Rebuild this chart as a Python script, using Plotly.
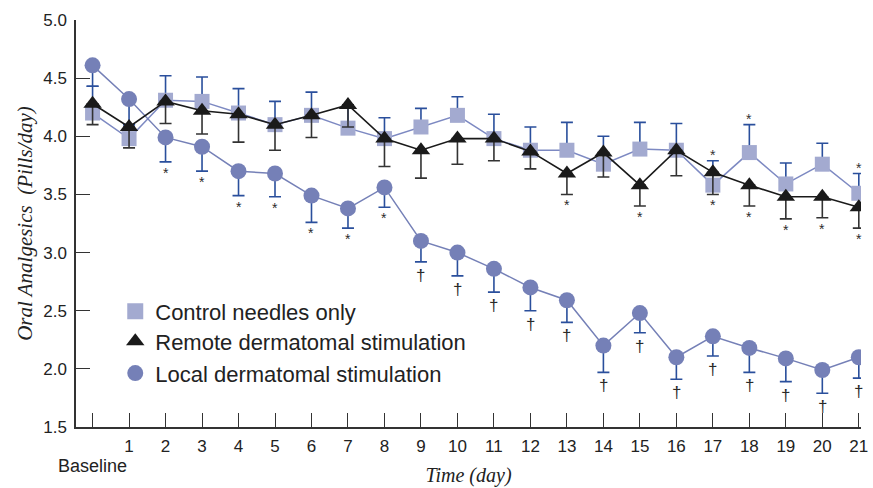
import plotly.graph_objects as go

days = list(range(22))
day_labels = [""] + [str(d) for d in range(1, 22)]

control = [4.20, 3.98, 4.31, 4.30, 4.20, 4.10, 4.18, 4.07, 3.98, 4.08, 4.18, 3.98,
           3.88, 3.88, 3.76, 3.89, 3.88, 3.58, 3.86, 3.59, 3.76, 3.51]
control_err = [0.23, 0.12, 0.21, 0.21, 0.21, 0.20, 0.20, 0.20, 0.18, 0.16, 0.16, 0.21,
               0.20, 0.24, 0.24, 0.23, 0.23, 0.21, 0.24, 0.18, 0.18, 0.17]
control_sig = [""] * 17 + ["*", "*", "", "", "*"]

remote = [4.28, 4.08, 4.30, 4.22, 4.19, 4.10, 4.18, 4.27, 3.98, 3.88, 3.98, 3.98,
          3.87, 3.68, 3.86, 3.58, 3.88, 3.69, 3.58, 3.48, 3.48, 3.39]
remote_err = [0.18, 0.18, 0.19, 0.20, 0.24, 0.22, 0.19, 0.19, 0.24, 0.24, 0.22, 0.19,
              0.15, 0.18, 0.21, 0.18, 0.22, 0.19, 0.18, 0.19, 0.18, 0.18]
remote_sig = [""] * 13 + ["*", "", "*", "", "*", "*", "*", "*", "*"]

local = [4.61, 4.32, 3.99, 3.91, 3.70, 3.68, 3.49, 3.38, 3.56, 3.10, 3.00, 2.86,
         2.70, 2.59, 2.20, 2.48, 2.10, 2.28, 2.18, 2.09, 1.99, 2.10]
local_err = [0.18, 0.22, 0.21, 0.21, 0.21, 0.20, 0.23, 0.17, 0.17, 0.18, 0.20, 0.20,
             0.20, 0.19, 0.23, 0.17, 0.19, 0.17, 0.21, 0.20, 0.20, 0.18]
local_sig = ["", ""] + ["*"] * 7 + ["\u2020"] * 13

names = ["Control needles only", "Remote dermatomal stimulation", "Local dermatomal stimulation"]

C_SQ = "#a3aad0"
C_CIR = "#7580b7"
C_BLUE_ERR = "#2a4f9c"
C_BLACK = "#1a1a1a"
C_ERR_BLACK = "#333333"
C_TXT = "#222222"

fig = go.Figure()

# Control
fig.add_trace(go.Scatter(
    x=days, y=control, mode="lines+markers", showlegend=False,
    line=dict(color="#7d89c2", width=1.5),
    marker=dict(symbol="square", size=15, color=C_SQ),
    error_y=dict(type="data", symmetric=False, array=control_err,
                 arrayminus=[0] * 22, color=C_BLUE_ERR, thickness=1.6, width=6),
))
# Local
fig.add_trace(go.Scatter(
    x=days, y=local, mode="lines+markers", showlegend=False,
    line=dict(color=C_CIR, width=1.5),
    marker=dict(symbol="circle", size=16, color=C_CIR),
    error_y=dict(type="data", symmetric=False, array=[0] * 22,
                 arrayminus=local_err, color=C_BLUE_ERR, thickness=1.6, width=6),
))
# Remote
fig.add_trace(go.Scatter(
    x=days, y=remote, mode="lines+markers", showlegend=False,
    line=dict(color=C_BLACK, width=1.6),
    marker=dict(symbol="triangle-up", size=16, color=C_BLACK),
    error_y=dict(type="data", symmetric=False, array=[0] * 22,
                 arrayminus=remote_err, color=C_ERR_BLACK, thickness=1.6, width=6),
))

# significance marks (derived from the data arrays)
def add_marks(vals, errs, sigs, above):
    for d, v, e, s in zip(days, vals, errs, sigs):
        if not s:
            continue
        dagger = s == "\u2020"
        if above:
            fig.add_annotation(x=d, y=v + e, text=s, showarrow=False,
                               yanchor="bottom", yshift=-4,
                               font=dict(family="Liberation Sans", size=14, color="#333333"))
        else:
            fig.add_annotation(x=d, y=v - e, text=s, showarrow=False,
                               yanchor="top", yshift=-2 if dagger else -1,
                               font=dict(family="Liberation Sans",
                                         size=17 if dagger else 14, color="#2a2a2a"))

add_marks(control, control_err, control_sig, True)
add_marks(remote, remote_err, remote_sig, False)
add_marks(local, local_err, local_sig, False)

# legend entries
leg_specs = [
    (names[0], "square", C_SQ, "legend", 0.284),
    (names[1], "triangle-up", C_BLACK, "legend2", 0.210),
    (names[2], "circle", C_CIR, "legend3", 0.132),
]
for nm, sym, col, lg, _ in leg_specs:
    fig.add_trace(go.Scatter(
        x=[None], y=[None], mode="markers", name=nm, legend=lg,
        marker=dict(symbol=sym, size=20, color=col),
    ))

leg_common = dict(
    x=0.050, xanchor="left", yanchor="middle", bgcolor="rgba(0,0,0,0)",
    font=dict(family="Liberation Sans", size=22, color=C_TXT),
    itemsizing="trace",
)
fig.update_layout(
    legend=dict(y=leg_specs[0][4], **leg_common),
    legend2=dict(y=leg_specs[1][4], **leg_common),
    legend3=dict(y=leg_specs[2][4], **leg_common),
)

fig.add_annotation(
    x=0, y=0, xref="x", yref="paper", text="Baseline", showarrow=False,
    yanchor="middle", yshift=-39,
    font=dict(family="Liberation Sans", size=18, color=C_TXT),
)

fig.update_xaxes(
    range=[-0.454, 21.06], tickvals=days, ticktext=day_labels,
    ticks="inside", ticklen=14, tickwidth=1.3, tickcolor="#333333",
    showline=True, linecolor="#333333", linewidth=1.5,
    showgrid=False, zeroline=False, ticklabeloverflow="allow",
    ticklabelstandoff=3,
    tickfont=dict(family="Liberation Sans", size=17, color=C_TXT),
    title=dict(text="<i>Time (day)</i>", standoff=13,
               font=dict(family="Liberation Serif", size=20, color=C_TXT)),
)
fig.update_yaxes(
    range=[1.5, 5.0], tickvals=[1.5, 2.0, 2.5, 3.0, 3.5, 4.0, 4.5, 5.0],
    ticktext=["1.5", "2.0", "2.5", "3.0", "3.5", "4.0", "4.5", "5.0"],
    ticks="inside", ticklen=14, tickwidth=1.3, tickcolor="#333333",
    showline=True, linecolor="#333333", linewidth=1.5,
    showgrid=False, zeroline=False, ticklabelstandoff=4,
    tickfont=dict(family="Liberation Sans", size=17, color=C_TXT),
    title=dict(text="<i>Oral Analgesics  (Pills/day)</i>", standoff=5,
               font=dict(family="Liberation Serif", size=21, color=C_TXT)),
)

fig.update_layout(
    width=873, height=488,
    margin=dict(l=76, r=5, t=20, b=58),
    plot_bgcolor="white", paper_bgcolor="white",
)

fig.write_html("out.html")
